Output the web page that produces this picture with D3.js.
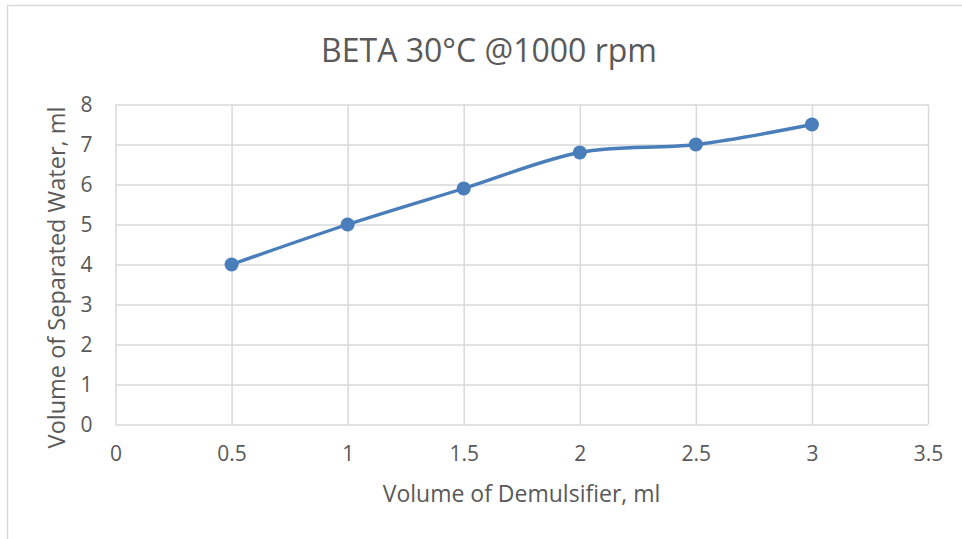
<!DOCTYPE html>
<html>
<head>
<meta charset="utf-8">
<script src="https://cdn.jsdelivr.net/npm/d3@7"></script>
<style>
  html, body { margin: 0; padding: 0; background: #fff; }
  svg { display: block; }
  text { font-family: "Open Sans", "Liberation Sans", sans-serif; fill: #595959; }
</style>
</head>
<body>
<script>
// Demulsifier dose (ml) and separated water (ml)
const demulsifier = [0.5, 1, 1.5, 2, 2.5, 3];
const water = [4, 5, 5.9, 6.8, 7, 7.5];
const xTicks = [0, 0.5, 1, 1.5, 2, 2.5, 3, 3.5];
const yTicks = [0, 1, 2, 3, 4, 5, 6, 7, 8];
const title = "BETA 30°C @1000 rpm";
const xTitle = "Volume of Demulsifier, ml";
const yTitle = "Volume of Separated Water, ml";

const W = 962, H = 539;
const plot = { left: 115.5, right: 928, top: 104.5, bottom: 424.5 };

const svg = d3.select("body").append("svg").attr("width", W).attr("height", H);

// chart frame (runs off the right and bottom edges)
svg.append("rect")
  .attr("x", 7.5).attr("y", 5.5)
  .attr("width", W + 10).attr("height", H + 10)
  .attr("fill", "none").attr("stroke", "#d9d9d9").attr("stroke-width", 1.5);

const x = d3.scaleLinear().domain([0, 3.5]).range([plot.left, plot.right]);
const y = d3.scaleLinear().domain([0, 8]).range([plot.bottom, plot.top]);

// vertical grid + x tick labels
const xAxis = d3.axisBottom(x).tickValues(xTicks)
  .tickSize(-(plot.bottom - plot.top)).tickPadding(22)
  .tickFormat(d3.format("~g"));
const gx = svg.append("g").attr("transform", `translate(0,${plot.bottom})`).call(xAxis);
gx.select(".domain").remove();
gx.selectAll(".tick line").attr("stroke", "#d9d9d9").attr("stroke-width", 1.5);
gx.selectAll(".tick text").attr("font-size", 21).attr("fill", "#595959")
  .attr("font-family", "Open Sans, sans-serif");

// horizontal grid + y tick labels
const yAxis = d3.axisLeft(y).tickValues(yTicks)
  .tickSize(-(plot.right - plot.left)).tickPadding(23)
  .tickFormat(d3.format("~g"));
const gy = svg.append("g").attr("transform", `translate(${plot.left},0)`).call(yAxis);
gy.select(".domain").remove();
gy.selectAll(".tick line").attr("stroke", "#d9d9d9").attr("stroke-width", 1.5);
gy.selectAll(".tick text").attr("font-size", 21).attr("fill", "#595959")
  .attr("font-family", "Open Sans, sans-serif");

// smoothed series line
const pts = demulsifier.map((d, i) => [d, water[i]]);
svg.append("path")
  .datum(pts)
  .attr("fill", "none")
  .attr("stroke", "#4a7ebb")
  .attr("stroke-width", 3.4)
  .attr("stroke-linejoin", "round")
  .attr("d", d3.line().x(d => x(d[0])).y(d => y(d[1])).curve(d3.curveCardinal.tension(0)));

svg.selectAll("circle.pt")
  .data(pts).enter().append("circle")
  .attr("class", "pt")
  .attr("cx", d => x(d[0])).attr("cy", d => y(d[1]))
  .attr("r", 7)
  .attr("fill", "#4a7ebb");

// titles
svg.append("text")
  .attr("x", 489).attr("y", 62)
  .attr("text-anchor", "middle")
  .attr("font-size", 32)
  .text(title);

svg.append("text")
  .attr("x", 521.5).attr("y", 502)
  .attr("text-anchor", "middle")
  .attr("font-size", 23)
  .text(xTitle);

svg.append("text")
  .attr("transform", `translate(65,277.5) rotate(-90)`)
  .attr("text-anchor", "middle")
  .attr("font-size", 23.5)
  .text(yTitle);
</script>
</body>
</html>
